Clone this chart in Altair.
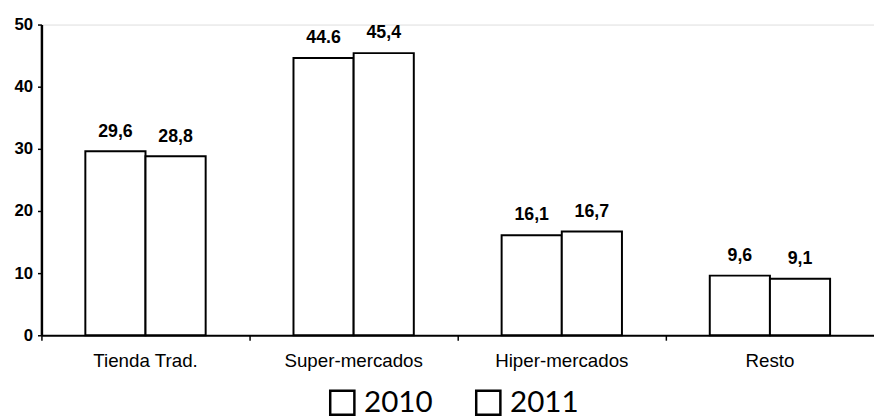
import altair as alt
import pandas as pd

# Market share by retail channel, 2010 vs 2011
categories = ["Tienda Trad.", "Super-mercados", "Hiper-mercados", "Resto"]
years = ["2010", "2011"]
values_2010 = [29.6, 44.6, 16.1, 9.6]
values_2011 = [28.8, 45.4, 16.7, 9.1]
labels_2010 = ["29,6", "44.6", "16,1", "9,6"]
labels_2011 = ["28,8", "45,4", "16,7", "9,1"]

rows = []
for i, cat in enumerate(categories):
    rows.append({"canal": cat, "anio": years[0], "valor": values_2010[i], "etiqueta": labels_2010[i]})
    rows.append({"canal": cat, "anio": years[1], "valor": values_2011[i], "etiqueta": labels_2011[i]})
df = pd.DataFrame(rows)

x_enc = alt.X(
    "canal:N",
    sort=categories,
    title=None,
    scale=alt.Scale(paddingInner=0, paddingOuter=0),
    axis=alt.Axis(
        labelAngle=0,
        labelFont="Liberation Sans",
        labelFontSize=19,
        labelColor="black",
        labelPadding=12,
        domainColor="black",
        domainWidth=2,
        tickColor="black",
        tickSize=5,
        tickWidth=1.5,
        bandPosition=0,
        grid=False,
    ),
)
xoff_enc = alt.XOffset("anio:N", sort=years, scale=alt.Scale(paddingInner=0, paddingOuter=0.73))
y_enc = alt.Y(
    "valor:Q",
    title=None,
    scale=alt.Scale(domain=[0, 50], nice=False),
    axis=alt.Axis(
        values=[0, 10, 20, 30, 40, 50],
        labelFont="Liberation Sans",
        labelFontWeight="bold",
        labelFontSize=17,
        labelColor="black",
        labelPadding=5,
        domainColor="black",
        domainWidth=2.5,
        tickColor="black",
        tickSize=4,
        tickWidth=1.5,
        grid=False,
    ),
)

bars = alt.Chart(df).mark_bar(stroke="black", strokeWidth=2).encode(
    x=x_enc,
    xOffset=xoff_enc,
    y=y_enc,
    fill=alt.Fill(
        "anio:N",
        sort=years,
        scale=alt.Scale(domain=years, range=["white", "white"]),
        legend=alt.Legend(
            title=None,
            orient="none",
            legendX=290,
            legendY=368,
            direction="horizontal",
            symbolType="square",
            symbolSize=600,
            symbolStrokeColor="black",
            symbolStrokeWidth=2.5,
            symbolFillColor="white",
            labelFont="Lato",
            labelFontSize=30,
            labelColor="black",
            labelOffset=7,
            columnPadding=38,
        ),
    ),
)

text = alt.Chart(df).mark_text(
    dy=-15, baseline="alphabetic", font="Liberation Sans", fontSize=18, fontWeight="bold", color="black"
).encode(
    x=alt.X("canal:N", sort=categories),
    xOffset=alt.XOffset("anio:N", sort=years),
    y="valor:Q",
    text="etiqueta:N",
)

chart = (
    alt.layer(bars, text)
    .properties(
        width=844,
        height=315,
        autosize=alt.AutoSizeParams(type="none"),
        padding={"left": 42, "top": 22, "right": 0, "bottom": 83},
    )
    .configure_view(stroke="black", strokeWidth=1.5)
    .configure(background="white")
)

chart.save("out.html", embed_options={"renderer": "svg", "actions": False})
